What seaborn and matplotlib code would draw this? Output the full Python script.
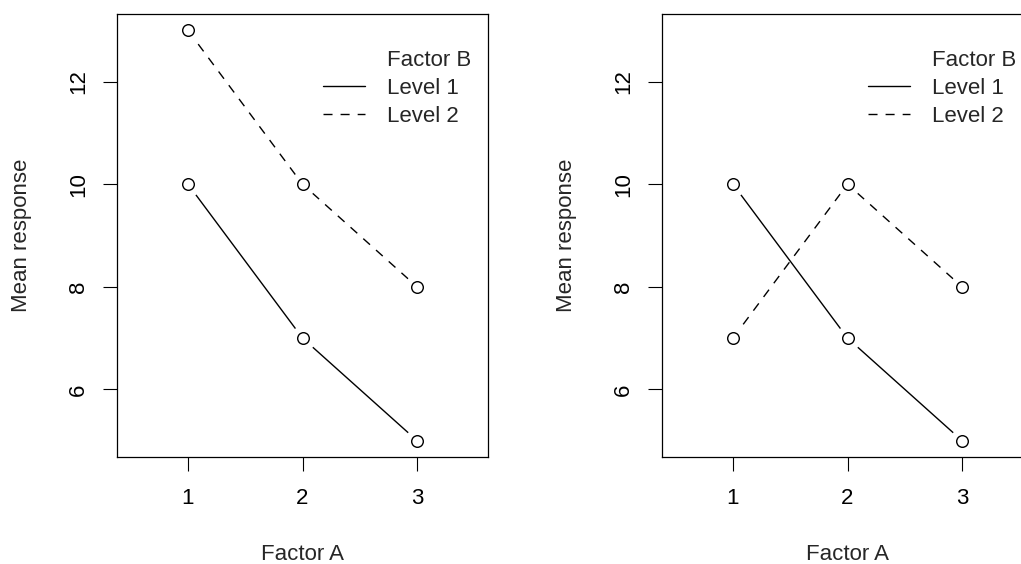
import matplotlib
matplotlib.use("Agg")
import matplotlib.pyplot as plt
import seaborn as sns
import pandas as pd
from matplotlib.lines import Line2D

# ---- data ----
factor_a = [1, 2, 3]
left_level1 = [10, 7, 5]
left_level2 = [13, 10, 8]
right_level1 = [10, 7, 5]
right_level2 = [7, 10, 8]
y_ticks = [6, 8, 10, 12]
legend_title = "Factor B"
legend_labels = ["Level 1", "Level 2"]

sns.set_style("white")
plt.rcParams["font.family"] = ["Liberation Sans", "DejaVu Sans"]
plt.rcParams["font.size"] = 16

DASH = (0, (6.5, 5.8))

fig = plt.figure(figsize=(10.21, 5.64), dpi=100)
ax_left = fig.add_axes([117/1021, 107/564, 371/1021, 443/564])
ax_right = fig.add_axes([662/1021, 107/564, 371/1021, 443/564])


def draw(ax, l1, l2):
    df1 = pd.DataFrame({"A": factor_a, "y": l1})
    df2 = pd.DataFrame({"A": factor_a, "y": l2})
    sns.lineplot(data=df1, x="A", y="y", ax=ax, color="black", linewidth=1.0,
                 linestyle="-", legend=False, zorder=2)
    sns.lineplot(data=df2, x="A", y="y", ax=ax, color="black", linewidth=1.0,
                 linestyle=DASH, legend=False, zorder=2)
    for df in (df1, df2):
        sns.scatterplot(data=df, x="A", y="y", ax=ax, color="white", s=340,
                        linewidth=0, legend=False, zorder=2.2)
        sns.scatterplot(data=df, x="A", y="y", ax=ax, color="white", s=70,
                        edgecolor="black", linewidth=1.0, legend=False, zorder=3)
    ax.set_xlim(0.38, 3.62)
    ax.set_ylim(4.68, 13.32)
    ax.set_xticks(factor_a)
    ax.set_xticklabels([str(v) for v in factor_a])
    ax.set_yticks(y_ticks)
    ax.set_yticklabels([str(v) for v in y_ticks], rotation=90, va="center")
    ax.tick_params(axis="both", direction="out", length=10, width=0.8,
                   color="black", labelsize=16, labelcolor="black")
    ax.tick_params(axis="x", pad=12.6)
    ax.tick_params(axis="y", pad=10.3)
    ax.tick_params(left=True, bottom=True)
    for sp in ax.spines.values():
        sp.set_visible(True)
        sp.set_color("black")
        sp.set_linewidth(0.9)
        sp.set_zorder(2.5)
    ax.set_xlabel("Factor A", fontsize=16)
    ax.xaxis.label.set_verticalalignment("baseline")
    ax.xaxis.set_label_coords(0.5, -(560 - 457) / 443)
    ax.set_ylabel("Mean response", fontsize=16)
    ax.yaxis.label.set_verticalalignment("baseline")
    ax.yaxis.set_label_coords(-(117 - 27) / 371, 0.5)

    handles = [
        Line2D([], [], linestyle="none"),
        Line2D([], [], color="black", linewidth=1.0, linestyle="-"),
        Line2D([], [], color="black", linewidth=1.0, linestyle=DASH),
    ]
    labels = [legend_title] + legend_labels
    leg = ax.legend(handles, labels, loc="upper left",
                    bbox_to_anchor=((323 - 117) / 371, 1 - (50.5 - 14) / 443),
                    frameon=False, borderpad=0, borderaxespad=0,
                    handlelength=1.9, handletextpad=1.0, labelspacing=0.3,
                    fontsize=16)
    leg.set_zorder(5)


draw(ax_left, left_level1, left_level2)
draw(ax_right, right_level1, right_level2)

fig.savefig("out.png", dpi=100, facecolor="white")
